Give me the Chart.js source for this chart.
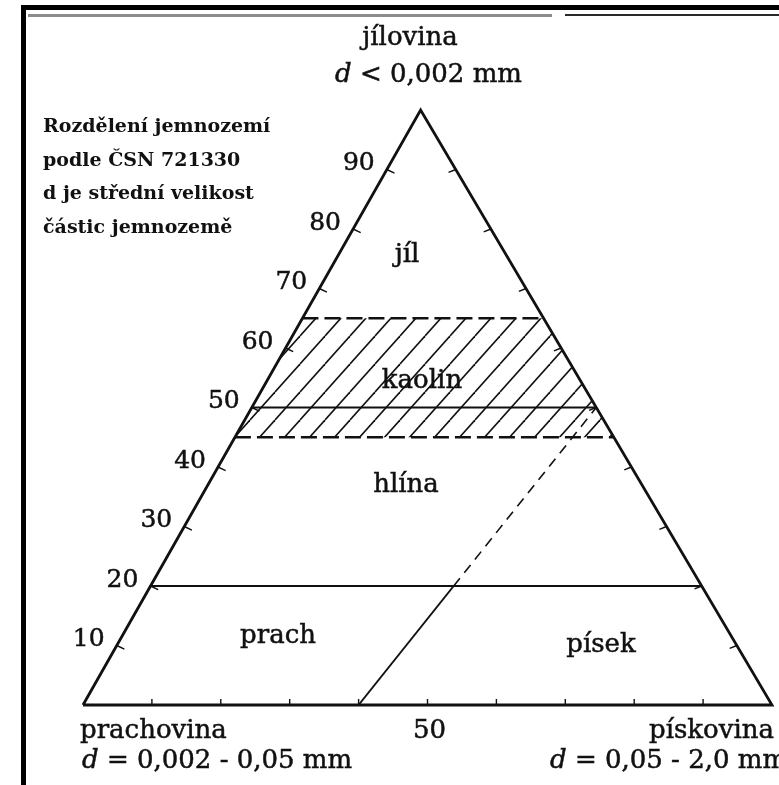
<!DOCTYPE html>
<html lang="cs">
<head>
<meta charset="UTF-8">
<title>Rozdělení jemnozemí</title>
<script src="https://cdn.jsdelivr.net/npm/chart.js@4.4.0/dist/chart.umd.min.js"></script>
<style>
  html, body { margin: 0; padding: 0; background: #fff; }
  #wrap { position: relative; width: 779px; height: 785px; }
</style>
</head>
<body>
<div id="wrap"><canvas id="soilChart"></canvas></div>
<script>
// every ternary point is [sand %, clay %]; silt (prach) = 100 - sand - clay
var cornerNames = ['prachovina', 'pískovina', 'jílovina'];
var cornerSizes = ['d = 0,002 - 0,05 mm', 'd = 0,05 - 2,0 mm', 'd < 0,002 mm'];
var corners = [[0, 0], [100, 0], [0, 100]];
var tickValues = [10, 20, 30, 40, 50, 60, 70, 80, 90];
var tickLabels = ['10', '20', '30', '40', '50', '60', '70', '80', '90'];
var baseTickValue = 50;
var baseTickLabel = '50';
var classNames = ['jíl', 'kaolin', 'hlína', 'prach', 'písek'];
var kaolinTop = 65;
var kaolinBottom = 45;
var solidClayLines = [50, 20];
var dividerStart = [40, 0];
var dividerEnd = [50, 50];
var dividerBreakClay = 20;
var noteLines = ['Rozdělení jemnozemí', 'podle ČSN 721330', 'd je střední velikost', 'částic jemnozemě'];

// the scanned triangle leans a little: apex sits left of the base centre
var APEX = 0.49;
function pt(p) { return {x: p[0] + p[1] * APEX, y: p[1]}; }
function gap() { return {x: null, y: null}; }
function segs(list) {
    var out = [];
    list.forEach(function(s, i) {
        if (i > 0) out.push(gap());
        out.push(pt(s[0]), pt(s[1]));
    });
    return out;
}
function clayLine(c) { return [[0, c], [100 - c, c]]; }

// divider between hlína/prach and písek, broken where it meets the 20 % line
var t = (dividerBreakClay - dividerStart[1]) / (dividerEnd[1] - dividerStart[1]);
var dividerBreak = [dividerStart[0] + t * (dividerEnd[0] - dividerStart[0]), dividerBreakClay];

var tickSegs = [];
tickValues.forEach(function(v) {
    tickSegs.push([[0, v], [1.4, v - 0.6]]);            // left side
    tickSegs.push([[100 - v, v], [99.2 - v, v - 0.5]]); // right side
    tickSegs.push([[v, 0], [v - APEX, 1]]);             // base
});

// diagonal hatch for the kaolin band
function hatchPattern() {
    var w = 25, h = 28;
    var c = document.createElement('canvas');
    c.width = w; c.height = h;
    var g = c.getContext('2d');
    g.strokeStyle = '#111';
    g.lineWidth = 1.6;
    [-w, 0, w].forEach(function(o) {
        g.beginPath();
        g.moveTo(o, h);
        g.lineTo(o + w, 0);
        g.stroke();
    });
    return g.createPattern(c, 'repeat');
}

var INK = '#111';
var base = {showLine: true, pointRadius: 0, fill: false, clip: false, borderColor: INK, order: 0};

var datasets = [
    Object.assign({}, base, {
        data: [pt([0, kaolinBottom]), pt([0, kaolinTop]), pt([100 - kaolinTop, kaolinTop]), pt([100 - kaolinBottom, kaolinBottom])],
        fill: 'shape', backgroundColor: hatchPattern(), borderWidth: 0, order: 10
    }),
    Object.assign({}, base, {
        data: corners.concat([corners[0]]).map(pt), borderWidth: 2.8, borderJoinStyle: 'miter'
    }),
    Object.assign({}, base, {data: segs(solidClayLines.map(clayLine)), borderWidth: 2}),
    Object.assign({}, base, {data: segs([clayLine(kaolinTop), clayLine(kaolinBottom)]), borderWidth: 2.6, borderDash: [16, 6]}),
    Object.assign({}, base, {data: segs([[dividerStart, dividerBreak]]), borderWidth: 2}),
    Object.assign({}, base, {data: segs([[dividerBreak, dividerEnd]]), borderWidth: 1.6, borderDash: [10, 7]}),
    Object.assign({}, base, {data: segs(tickSegs), borderWidth: 1.4})
];

var SERIF = '"DejaVu Serif", "Liberation Serif", serif';

// page furniture and all labels of the scanned figure
var textPlugin = {
    id: 'soilText',
    afterDraw: function(chart) {
        var ctx = chart.ctx;
        var xs = chart.scales.x, ys = chart.scales.y;
        function px(p) { var q = pt(p); return [xs.getPixelForValue(q.x), ys.getPixelForValue(q.y)]; }
        // scanned print looks heavier than the plain font, so give it a thin outline
        function txt(s, x, y) {
            ctx.fillText(s, x, y);
            ctx.strokeText(s, x, y);
        }
        ctx.save();

        // frame of the scanned page
        ctx.fillStyle = '#000';
        ctx.fillRect(21, 5, 758, 5);
        ctx.fillRect(21, 5, 5, 780);
        ctx.fillStyle = '#8c8c8c';
        ctx.fillRect(28, 14, 524, 3);
        ctx.fillStyle = '#2a2a2a';
        ctx.fillRect(565, 14, 214, 2);

        ctx.fillStyle = INK;
        ctx.strokeStyle = INK;
        ctx.lineWidth = 0.5;
        ctx.textBaseline = 'alphabetic';

        // d-size lines with italic d
        function sizeText(s, x, y) {
            ctx.textAlign = 'left';
            ctx.font = 'italic 26px ' + SERIF;
            txt(s[0], x, y);
            var w = ctx.measureText(s[0]).width;
            ctx.font = '26px ' + SERIF;
            txt(s.slice(1), x + w, y);
        }

        ctx.font = '26px ' + SERIF;
        ctx.textAlign = 'center';
        txt(cornerNames[2], 410, 45);
        sizeText(cornerSizes[2], 335, 82);

        ctx.textAlign = 'left';
        ctx.font = '26px ' + SERIF;
        txt(cornerNames[0], 80, 738);
        sizeText(cornerSizes[0], 82, 768);
        ctx.textAlign = 'right';
        ctx.font = '26px ' + SERIF;
        txt(cornerNames[1], 774, 738);
        sizeText(cornerSizes[1], 550, 768);

        ctx.textAlign = 'center';
        ctx.font = '26px ' + SERIF;
        txt(baseTickLabel, px([baseTickValue, 0])[0] + 2, 738);

        // clay % labels on the left side
        ctx.font = '25px ' + SERIF;
        ctx.textBaseline = 'middle';
        tickValues.forEach(function(v, i) {
            var p = px([0, v]);
            txt(tickLabels[i], p[0] - 28, p[1] - 6);
        });

        // class names
        ctx.textBaseline = 'alphabetic';
        ctx.font = '26px ' + SERIF;
        var classPos = [[407, 262], [422, 388], [406, 492], [278, 643], [601, 652]];
        classNames.forEach(function(n, i) { txt(n, classPos[i][0], classPos[i][1]); });

        // note
        ctx.textAlign = 'left';
        ctx.font = 'bold 19px ' + SERIF;
        noteLines.forEach(function(l, i) { ctx.fillText(l, 43, 132 + i * 33.7); });

        ctx.restore();
    }
};

new Chart(document.getElementById('soilChart'), {
    type: 'line',
    data: {datasets: datasets},
    plugins: [textPlugin],
    options: {
        responsive: true,
        maintainAspectRatio: false,
        animation: false,
        events: [],
        layout: {padding: {left: 83, right: 7, top: 110, bottom: 80}},
        scales: {
            x: {type: 'linear', min: 0, max: 100, display: false},
            y: {type: 'linear', min: 0, max: 100, display: false}
        },
        plugins: {legend: {display: false}, tooltip: {enabled: false}}
    }
});
</script>
</body>
</html>
